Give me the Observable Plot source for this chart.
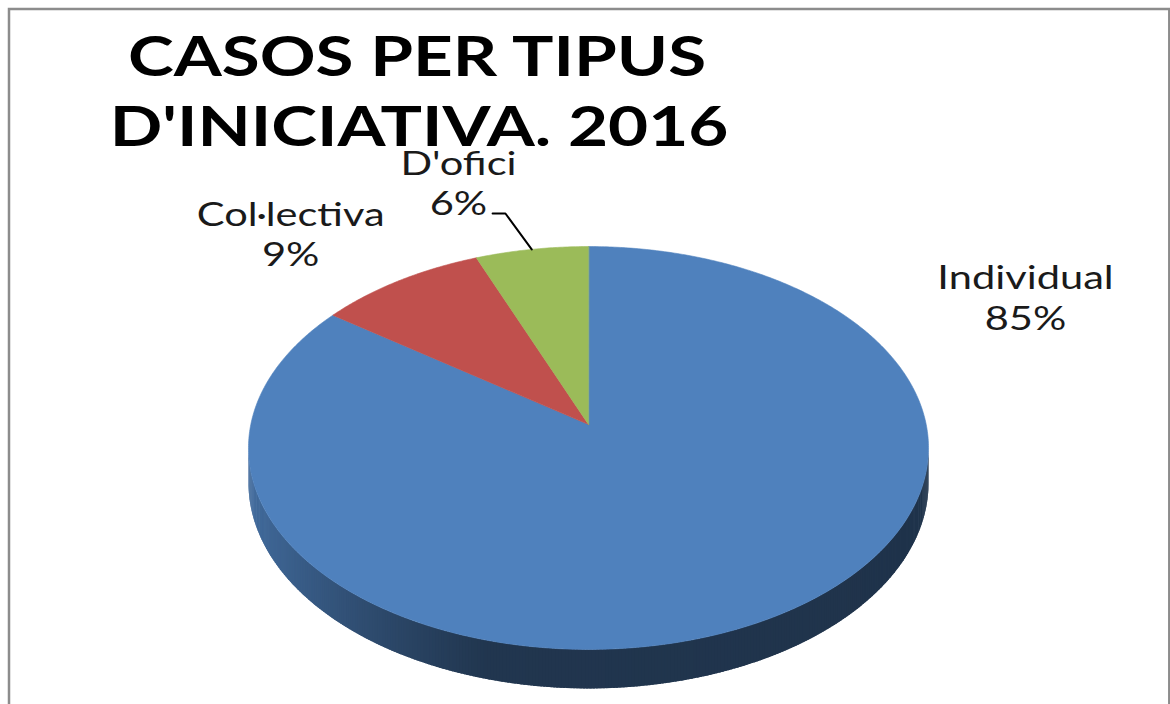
<!DOCTYPE html>
<html><head><meta charset="utf-8">
<script src="https://cdn.jsdelivr.net/npm/d3@7"></script>
<script src="https://cdn.jsdelivr.net/npm/@observablehq/plot@0.6"></script>
<style>html,body{margin:0;padding:0;background:#fff;overflow:hidden;} svg{display:block;}</style>
</head><body><div id="chart"></div>
<script>
// ---- data ----
const categories = ["Individual", "Col·lectiva", "D'ofici"];
const shares = [85, 9, 6];
const colors = ["#4f81bd", "#c0504d", "#9bbb59"];
const titleLines = ["CASOS PER TIPUS", "D'INICIATIVA. 2016"];

// ---- layout (pie model units: radius 1) ----
const persp = -0.1166;      // perspective factor of the tilted disk
const depth = 0.1734;       // thickness of the pie
const labelAnchors = [      // [x, y line1, y line2]
  [1.294, -0.734, -0.528],
  [-0.882, -1.052, -0.851],
  [-0.385, -1.309, -1.107]
];
const leaderFrom = [[-0.284, -1.062], [-0.246, -1.062]]; // D'ofici leader (label side)

function proj(deg, r = 1, drop = 0) {
  const p = deg * Math.PI / 180;
  const u = r * Math.sin(p), v = -r * Math.cos(p);
  const w = 1 + persp * v;
  return {X: u / w, Y: (v + drop) / w};
}

const total = d3.sum(shares);
let acc = 0;
const slices = categories.map((c, i) => {
  const a0 = acc / total * 360; acc += shares[i];
  const a1 = acc / total * 360;
  return {c, a0, a1, color: colors[i], value: shares[i]};
});

// top faces
const facePts = [];
slices.forEach(s => {
  facePts.push({id: s.c, ...proj(0, 0), col: s.color});
  const n = Math.max(2, Math.ceil((s.a1 - s.a0) / 0.5));
  for (let k = 0; k <= n; k++) facePts.push({id: s.c, ...proj(s.a0 + (s.a1 - s.a0) * k / n), col: s.color});
});

// visible side (front arc), overlapping strips to avoid seams
const fL = Math.acos(persp) * 180 / Math.PI, fR = 360 - fL;
const shade = d3.scaleLinear().domain([-1, -0.3, 1]).range([0.55, 2.45, 2.6]).clamp(true);
const sidePts = [];
slices.forEach(s => {
  const lo = Math.max(s.a0, fL), hi = Math.min(s.a1, fR);
  if (hi <= lo) return;
  const n = Math.ceil((hi - lo) * 2);
  const step = (hi - lo) / n;
  for (let k = 0; k < n; k++) {
    const b0 = lo + step * k, b1 = Math.min(hi, b0 + step * 1.8);
    const p0 = proj(b0), p1 = proj(b1), q1 = proj(b1, 1, depth), q0 = proj(b0, 1, depth);
    const col = d3.color(s.color).darker(shade(proj(b0 + step / 2).X)).formatHex();
    const id = s.c + "-" + k;
    [p0, p1, q1, q0].forEach(p => sidePts.push({id, ...p, col}));
  }
});

// labels
const labelRows = [];
slices.forEach((s, i) => {
  const [x, y1, y2] = labelAnchors[i];
  labelRows.push({X: x, Y: y1, t: s.c});
  labelRows.push({X: x, Y: y2, t: s.value + "%"});
});
const dof = slices[2];
const leader = [
  {X: leaderFrom[0][0], Y: leaderFrom[0][1]},
  {X: leaderFrom[1][0], Y: leaderFrom[1][1]},
  proj((dof.a0 + dof.a1) / 2)
];

const titleStyle = {frameAnchor: "top-left", textAnchor: "middle", lineAnchor: "top", fontFamily: "Lato", fontWeight: "bold", fontSize: 56, fill: "#000"};

const chart = Plot.plot({
  width: 1170, height: 704, margin: 0,
  x: {domain: [-1, 1], range: [250.3, 925.7], axis: null},
  y: {domain: [-1, 1], range: [225.3, 622.7], axis: null},
  color: {type: "identity"},
  marks: [
    Plot.frame({stroke: "#8c8c8c", strokeWidth: 2.5, insetLeft: 8.5, insetTop: 8.5, insetRight: 1.2, insetBottom: -12}),
    Plot.line(sidePts, {x: "X", y: "Y", z: "id", fill: "col", stroke: "none", curve: "linear-closed"}),
    Plot.line(facePts, {x: "X", y: "Y", z: "id", fill: "col", stroke: "col", strokeWidth: 0.6, curve: "linear-closed"}),
    Plot.line(leader, {x: "X", y: "Y", stroke: "#000", strokeWidth: 2}),
    Plot.text(labelRows, {x: "X", y: "Y", text: "t", fontFamily: "Lato", fontSize: 32, fill: "#1a1a1a"}),
    Plot.text([titleLines[0]], {...titleStyle, dx: 416.5, dy: 36}),
    Plot.text([titleLines[1]], {...titleStyle, dx: 418.5, dy: 106})
  ]
});
document.getElementById("chart").append(chart);

// horizontal stretch of the narrow-looking fonts (labels group, then the two title groups)
const groups = chart.querySelectorAll('g[aria-label="text"]');
const stretch = [1.3, 1.235, 1.235];
groups.forEach((g, gi) => {
  const k = stretch[gi] || 1;
  g.querySelectorAll("text").forEach(t => {
    const w = t.getComputedTextLength();
    t.setAttribute("textLength", (w * k).toFixed(1));
    t.setAttribute("lengthAdjust", "spacingAndGlyphs");
  });
});
</script>
</body></html>
